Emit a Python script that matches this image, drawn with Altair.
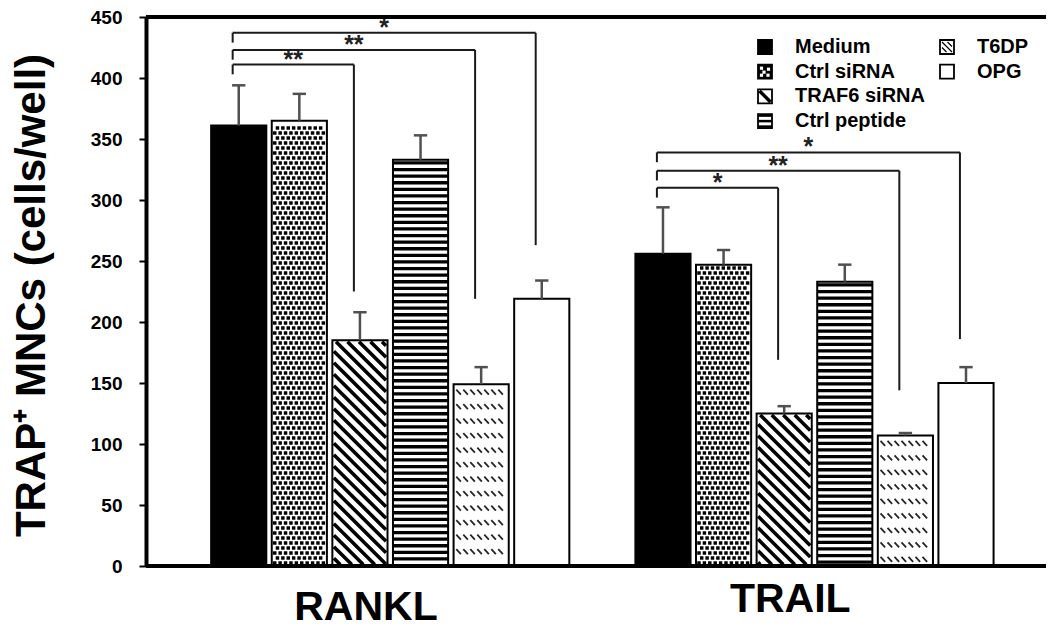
import altair as alt
import numpy as np
import pandas as pd

# ---------------- data ----------------
groups = ["RANKL", "TRAIL"]
treatments = ["Medium", "Ctrl siRNA", "TRAF6 siRNA", "Ctrl peptide", "T6DP", "OPG"]
rankl_mean = [361, 365, 185, 333, 149, 219]
rankl_sem = [33, 22, 23, 20, 14, 15]
trail_mean = [256, 247, 125, 233, 107, 150]
trail_sem = [38, 12, 6, 14, 2, 13]
y_ticks = [0, 50, 100, 150, 200, 250, 300, 350, 400, 450]
y_title = "TRAP\u207a MNCs (cells/well)"

sig_target = ["TRAF6 siRNA", "T6DP", "OPG"]
rankl_sig_text = ["**", "**", "*"]
rankl_sig_top = [411, 423, 437]
rankl_sig_end = [225, 219, 263]
trail_sig_text = ["*", "**", "*"]
trail_sig_top = [310, 324, 339]
trail_sig_end = [169, 144, 186]

legend_names = ["Medium", "Ctrl siRNA", "TRAF6 siRNA", "Ctrl peptide", "T6DP", "OPG"]
legend_col = [0, 0, 0, 0, 1, 1]
legend_row = [0, 1, 2, 3, 0, 1]

# ---------------- layout ----------------
W, H = 900, 549
XMIN, XMAX = -1.53, 13.32
YMAX = 450
STRIDE = 7
HALF = 0.455
CAP = 0.11
PXS = W / (XMAX - XMIN)
PYU = H / YMAX
FONT = "Liberation Sans"
xs = alt.Scale(domain=[XMIN, XMAX], nice=False, zero=False)
ys = alt.Scale(domain=[0, YMAX], nice=False, zero=False)


def sx(p):
    return XMIN + p / PXS


def sv(p):
    return YMAX - p / PYU


def px(s):
    return (s - XMIN) * PXS


def py(v):
    return (YMAX - v) * PYU


def X(f):
    return alt.X(f, type="quantitative", scale=xs)


def Y(f):
    return alt.Y(f, type="quantitative", scale=ys)


# ---------------- bars ----------------
rows = []
for g, (means, sems) in enumerate([(rankl_mean, rankl_sem), (trail_mean, trail_sem)]):
    for i, t in enumerate(treatments):
        s = g * STRIDE + i
        rows.append(dict(group=groups[g], treatment=t, slot=s, x1=s - HALF, x2=s + HALF,
                         mean=means[i], top=means[i] + sems[i], c1=s - CAP, c2=s + CAP,
                         zero=0, fill="black" if t == "Medium" else "white"))
bars = pd.DataFrame(rows)

# ---------------- fill patterns (derived from the bars) ----------------
dots, diag, hstripe, dash = [], [], [], []
for r in rows:
    L, R, T, B = px(r["x1"]), px(r["x2"]), py(r["mean"]), py(0)
    t = r["treatment"]
    if t == "Ctrl siRNA":
        j = 0
        yy = B - 3
        while yy > T + 2.5:
            xx = L + 3 + (j % 2) * 2.7
            while xx < R - 2:
                dots.append(dict(x=sx(xx), y=sv(yy)))
                xx += 5.4
            yy -= 5.0
            j += 1
    elif t == "TRAF6 siRNA":
        ins = 1.5
        c = (T + ins) - (R - ins) + 4
        cend = (B - ins) - (L + ins)
        while c < cend:
            xa = max(L + ins, T + ins - c)
            xb = min(R - ins, B - ins - c)
            if xb > xa + 1:
                diag.append(dict(x=sx(xa), y=sv(xa + c), x2=sx(xb), y2=sv(xb + c)))
            c += 11.5
    elif t == "Ctrl peptide":
        yy = T + 3.2
        while yy < B - 1.5:
            hstripe.append(dict(x=sx(L), y=sv(yy), x2=sx(R), y2=sv(yy)))
            yy += 6.6
    elif t == "T6DP":
        yy = T + 8
        while yy < B - 3:
            xx = L + 5
            while xx < R - 3:
                dash.append(dict(x=sx(xx - 2.3), y=sv(yy - 2.5), x2=sx(xx + 2.3), y2=sv(yy + 2.5)))
                xx += 7.0
            yy += 14.5

dots = pd.DataFrame(dots)
diag = pd.DataFrame(diag)
hstripe = pd.DataFrame(hstripe)
dash = pd.DataFrame(dash)

# ---------------- significance brackets ----------------
seg, stars = [], []
for g, (txt, tops, ends) in enumerate([(rankl_sig_text, rankl_sig_top, rankl_sig_end),
                                       (trail_sig_text, trail_sig_top, trail_sig_end)]):
    xl = g * STRIDE + treatments.index("Medium") - 0.1
    for k, tgt in enumerate(sig_target):
        xr = g * STRIDE + treatments.index(tgt) - 0.1
        h = tops[k]
        seg.append(dict(x=xl, y=h, x2=xr, y2=h))
        seg.append(dict(x=xl, y=h, x2=xl, y2=h - 8))
        seg.append(dict(x=xr, y=h, x2=xr, y2=ends[k]))
        stars.append(dict(x=(xl + xr) / 2, y=h, label=txt[k]))
seg = pd.DataFrame(seg)
stars = pd.DataFrame(stars)

# ---------------- layers ----------------
yaxis = alt.Axis(values=y_ticks, title=y_title, titleFont=FONT, titleFontSize=42,
                 titleFontWeight="bold", titleColor="black", titleAngle=270,
                 titleX=-102, titleY=278, titleAlign="center", titleBaseline="alphabetic",
                 labelFont=FONT, labelFontSize=19, labelFontWeight="bold", labelColor="black",
                 labelPadding=17, tickSize=7, tickWidth=2, tickColor="black",
                 domainColor="black", domainWidth=4, grid=False)

bar_fill = alt.Chart(bars).mark_rect(strokeWidth=0).encode(
    x=X("x1"), x2="x2",
    y=alt.Y("mean:Q", scale=ys, axis=yaxis), y2="zero",
    fill=alt.Fill("fill:N", scale=None))

dot_layer = alt.Chart(dots).mark_square(size=12, color="black", opacity=1).encode(x=X("x"), y=Y("y"))
diag_layer = alt.Chart(diag).mark_rule(strokeWidth=3.6, color="black").encode(
    x=X("x"), y=Y("y"), x2="x2", y2="y2")
hs_layer = alt.Chart(hstripe).mark_rule(strokeWidth=3.3, color="black").encode(
    x=X("x"), y=Y("y"), x2="x2", y2="y2")
dash_layer = alt.Chart(dash).mark_rule(strokeWidth=1.8, color="#262626").encode(
    x=X("x"), y=Y("y"), x2="x2", y2="y2")

bar_outline = alt.Chart(bars).mark_rect(fillOpacity=0, stroke="black", strokeWidth=2).encode(
    x=X("x1"), x2="x2", y=Y("mean"), y2="zero")

err_v = alt.Chart(bars).mark_rule(color="#505050", strokeWidth=2.5).encode(
    x=X("slot"), y=Y("mean"), y2="top")
err_c = alt.Chart(bars).mark_rule(color="#505050", strokeWidth=2.5).encode(
    x=X("c1"), x2="c2", y=Y("top"))

br_layer = alt.Chart(seg).mark_rule(color="#1a1a1a", strokeWidth=2).encode(
    x=X("x"), y=Y("y"), x2="x2", y2="y2")
star_layer = alt.Chart(stars).mark_text(font=FONT, fontSize=25, fontWeight="bold", color="#222222",
                                        baseline="alphabetic", dy=3).encode(
    x=X("x"), y=Y("y"), text="label")

frame = pd.DataFrame({"v": [0, YMAX]})
frame_layer = alt.Chart(frame).mark_rule(strokeWidth=4, color="black").encode(y=Y("v"))

# group labels (below the axis, placed via the data scales)
glab = pd.DataFrame({"group": groups,
                     "x": [g * STRIDE + (len(treatments) - 1) / 2 - 0.4 for g in range(len(groups))],
                     "y": [sv(H + 54), sv(H + 46)]})
glab_layer = alt.Chart(glab).mark_text(font=FONT, fontSize=41, fontWeight="bold", color="black",
                                       baseline="alphabetic", align="center").encode(
    x=X("x"), y=Y("y"), text="group")

# ---------------- manual legend (pixel layout converted to data units) ----------------
LEG_X0, LEG_DX, LEG_Y0, LEG_DY, BOX, GAP = 619, 182, 30, 24.7, 14, 30
leg = pd.DataFrame({"name": legend_names, "col": legend_col, "row": legend_row})
pcx = LEG_X0 + leg["col"] * LEG_DX
pcy = LEG_Y0 + leg["row"] * LEG_DY
leg["l"] = sx(pcx - BOX / 2)
leg["r"] = sx(pcx + BOX / 2)
leg["t"] = sv(pcy - BOX / 2)
leg["b"] = sv(pcy + BOX / 2)
leg["tx"] = sx(pcx + GAP)
leg["ty"] = sv(pcy)
leg["fill"] = ["black" if n in ("Medium", "Ctrl siRNA") else "white" for n in legend_names]
centers = {n: (LEG_X0 + cc * LEG_DX, LEG_Y0 + rr * LEG_DY)
           for n, cc, rr in zip(legend_names, legend_col, legend_row)}

spots = []
for dx, dy in [(-3.5, -3.5), (3.5, -2.5), (-1, 0.5), (-3.5, 3.5), (3, 3.5)]:
    cx, cy = centers["Ctrl siRNA"][0] + dx, centers["Ctrl siRNA"][1] + dy
    spots.append(dict(l=sx(cx - 1.6), r=sx(cx + 1.6), t=sv(cy - 1.6), b=sv(cy + 1.6)))
spots = pd.DataFrame(spots)

icl = []


def add_line(name, x1, y1, x2, y2, w):
    cx, cy = centers[name]
    icl.append(dict(x=sx(cx + x1), y=sv(cy + y1), x2=sx(cx + x2), y2=sv(cy + y2), w=w))


add_line("TRAF6 siRNA", -5.5, -5.5, 5.5, 5.5, 3.5)
add_line("Ctrl peptide", -7, 0, 7, 0, 2.5)
add_line("Ctrl peptide", -7, -5.5, 7, -5.5, 2.5)
add_line("Ctrl peptide", -7, 5.5, 7, 5.5, 2.5)
add_line("T6DP", -5, -5, 5, 5, 1.3)
add_line("T6DP", -5, 0.5, -0.5, 5, 1.3)
add_line("T6DP", 0.5, -5, 5, -0.5, 1.3)
icl = pd.DataFrame(icl)

leg_box = alt.Chart(leg).mark_rect(stroke="black", strokeWidth=1.8).encode(
    x=X("l"), x2="r", y=Y("t"), y2="b", fill=alt.Fill("fill:N", scale=None))
leg_spots = alt.Chart(spots).mark_rect(fill="white", strokeWidth=0).encode(
    x=X("l"), x2="r", y=Y("t"), y2="b")
leg_lines = alt.Chart(icl).mark_rule(color="black").encode(
    x=X("x"), x2="x2", y=Y("y"), y2="y2", strokeWidth=alt.StrokeWidth("w:Q", scale=None))
leg_text = alt.Chart(leg).mark_text(font=FONT, fontSize=20, fontWeight="bold", color="black",
                                    align="left", baseline="middle").encode(
    x=X("tx"), y=Y("ty"), text="name")

chart = alt.layer(
    bar_fill, dot_layer, diag_layer, hs_layer, dash_layer, bar_outline,
    err_v, err_c, br_layer, star_layer, frame_layer, glab_layer,
    leg_box, leg_spots, leg_lines, leg_text,
).properties(
    width=W, height=H,
    padding={"left": 138, "top": 9, "right": 0, "bottom": 58},
    autosize=alt.AutoSizeParams(type="none"),
).configure_view(stroke=None).configure_axisX(disable=True)

chart.save("out.html", embed_options={"renderer": "svg", "actions": False})
